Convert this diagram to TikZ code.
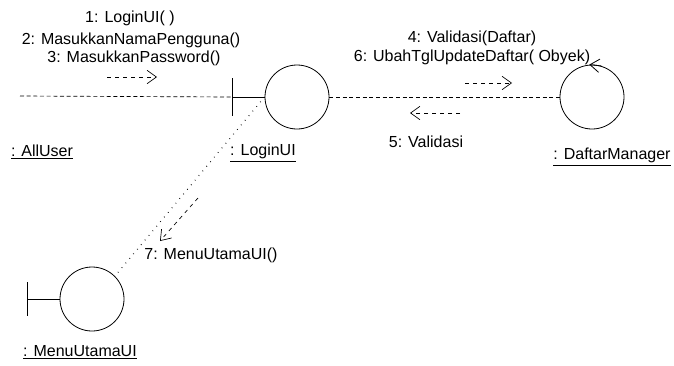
\documentclass[tikz,border=0pt]{standalone}
\usepackage{fontspec}
\setmainfont{Liberation Sans}
\usetikzlibrary{arrows.meta,positioning}
\tikzset{x=0.75pt, y=-0.75pt, % one unit is one pixel of the scan
>={Straight Barb[length=7pt,width=10pt]}, % open arrow heads
every node/.style={font=\fontsize{12}{14}\selectfont, inner sep=1pt},
object/.style={circle, draw, line width=0.6pt, minimum size=48pt, inner sep=0pt}, % boundary and control objects
link/.style={densely dashed, line width=0.5pt}, % links between objects
msg/.style={->, dashed, line width=0.5pt}, % message arrows
}

\begin{document}
\begin{tikzpicture}
\useasboundingbox (0,0) rectangle (674,365);
% objects
\coordinate (au) at (20,96);
\node[object] (lu) at (297,97) {};
\node[object] (dm) at (592,97) {};
\node[object] (mu) at (92,299) {};
% boundary bars
\draw[line width=0.6pt] (lu.west) -- ++(-32,0) coordinate (lubar) ++(0,-19) -- ++(0,38);
\draw[line width=0.6pt] (mu.west) -- ++(-32,0) coordinate (mubar) ++(0,-17) -- ++(0,34);
% control arrow
\draw[->, line width=0.6pt] ([xshift=7pt,yshift=-1pt]dm.north) -- ([xshift=-2pt]dm.north);
% object names
\node (aulabel) at (42,152) {\underline{: AllUser}};
\node (lulabel) at (263,153) {\underline{: LoginUI}};
\node (dmlabel) at (612,157) {\underline{: DaftarManager}};
\node (mulabel) at (80,352) {\underline{: MenuUtamaUI}};
% links
\draw[link] (au) -- (lubar);
\draw[link] (lu) -- (dm);
\draw[link, loosely dotted, line width=0.8pt] (lu.west) -- (mu.north east);
% messages
\node (m1) at (130,18) {1: LoginUI( )};
\node (m2) at (131,40) {2: MasukkanNamaPengguna()};
\node (m3) at (134,58) {3: MasukkanPassword()};
\coordinate (m1s) at (107,77);
\coordinate (m1e) at (157,77);
\draw[msg] (m1s) -- (m1e);
\node (m4) at (472,38) {4: Validasi(Daftar)};
\node (m6) at (472,57) {6: UbahTglUpdateDaftar( Obyek)};
\coordinate (m4s) at (465,83);
\coordinate (m4e) at (512,83);
\draw[msg] (m4s) -- (m4e);
\node (m5) at (426,142) {5: Validasi};
\coordinate (m5s) at (460,113);
\coordinate (m5e) at (410,113);
\draw[msg] (m5s) -- (m5e);
\node (m7) at (211,255) {7: MenuUtamaUI()};
\coordinate (m7s) at (198,198);
\coordinate (m7e) at (160,241);
\draw[msg] (m7s) -- (m7e);
\end{tikzpicture}
\end{document}
